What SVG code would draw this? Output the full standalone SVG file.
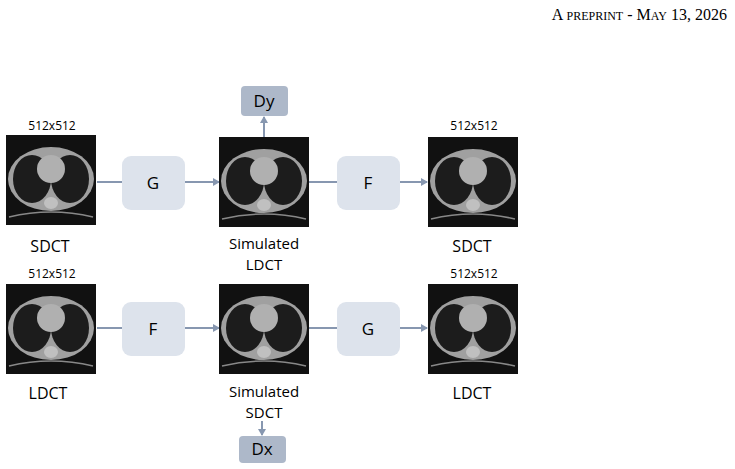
<svg xmlns="http://www.w3.org/2000/svg" width="735" height="469" viewBox="0 0 735 469">
<style>
.t{font-family:"Open Sans","Noto Sans",sans-serif;fill:#000}
.box{fill:#dde3ec}
.d{fill:#adb8c9}
.c{stroke:#8797b0;stroke-width:2;fill:none}
</style>
<defs>
<marker id="a" markerWidth="8" markerHeight="8" refX="6" refY="4" orient="auto" markerUnits="userSpaceOnUse"><path d="M0,0 L7,4 L0,8z" fill="#8797b0"/></marker>
<g id="ct">
<rect width="90" height="90" fill="#111"/>
<ellipse cx="45" cy="44" rx="43" ry="32" fill="#a0a0a0"/>
<ellipse cx="26" cy="44" rx="19" ry="24" fill="#1c1c1c"/>
<ellipse cx="64" cy="44" rx="19" ry="24" fill="#1c1c1c"/>
<ellipse cx="45" cy="34" rx="14" ry="14" fill="#b0b0b0"/>
<ellipse cx="45" cy="68" rx="7" ry="6" fill="#c0c0c0"/>
<path d="M3,82 Q45,72 87,82" stroke="#888" stroke-width="1.5" fill="none"/>
</g>
</defs>
<text x="727" y="20" text-anchor="end" font-family="Liberation Serif,serif" font-size="16">A <tspan font-size="12">PREPRINT</tspan> - M<tspan font-size="12">AY</tspan> 13, 2026</text>
<g id="connectors">
<line class="c" x1="97" y1="182" x2="122" y2="182"/>
<line class="c" x1="185" y1="182" x2="219" y2="182" marker-end="url(#a)"/>
<line class="c" x1="264" y1="138" x2="264" y2="117" marker-end="url(#a)"/>
<line class="c" x1="308" y1="182" x2="337" y2="182"/>
<line class="c" x1="400" y1="182" x2="427" y2="182" marker-end="url(#a)"/>
<line class="c" x1="97" y1="328" x2="122" y2="328"/>
<line class="c" x1="185" y1="328" x2="219" y2="328" marker-end="url(#a)"/>
<line class="c" x1="262" y1="421" x2="262" y2="435" marker-end="url(#a)"/>
<line class="c" x1="308" y1="328" x2="337" y2="328"/>
<line class="c" x1="400" y1="328" x2="427" y2="328" marker-end="url(#a)"/>
</g>
<g id="sdct-in"><text class="t" x="52" y="130" font-size="12" text-anchor="middle">512x512</text><use href="#ct" x="6" y="135"/><text class="t" x="50" y="252" font-size="16" text-anchor="middle">SDCT</text></g>
<g id="G1"><rect class="box" x="122" y="156" width="63" height="54" rx="9"/><text class="t" x="153" y="189" font-size="17" text-anchor="middle">G</text></g>
<g id="sim-ldct"><use href="#ct" x="219" y="137"/><text class="t" x="264" y="249" font-size="15" text-anchor="middle">Simulated</text><text class="t" x="264" y="270" font-size="15" text-anchor="middle">LDCT</text></g>
<g id="Dy"><rect class="d" x="241" y="86" width="47" height="30" rx="4"/><text class="t" x="264" y="107" font-size="17" text-anchor="middle">Dy</text></g>
<g id="F1"><rect class="box" x="337" y="156" width="63" height="54" rx="9"/><text class="t" x="368" y="189" font-size="17" text-anchor="middle">F</text></g>
<g id="sdct-out"><text class="t" x="474" y="130" font-size="12" text-anchor="middle">512x512</text><use href="#ct" x="428" y="137"/><text class="t" x="472" y="252" font-size="16" text-anchor="middle">SDCT</text></g>
<g id="ldct-in"><text class="t" x="52" y="278" font-size="12" text-anchor="middle">512x512</text><use href="#ct" x="6" y="284"/><text class="t" x="48" y="399" font-size="16" text-anchor="middle">LDCT</text></g>
<g id="F2"><rect class="box" x="122" y="302" width="63" height="54" rx="9"/><text class="t" x="153" y="335" font-size="17" text-anchor="middle">F</text></g>
<g id="sim-sdct"><use href="#ct" x="219" y="284"/><text class="t" x="264" y="397" font-size="15" text-anchor="middle">Simulated</text><text class="t" x="264" y="418" font-size="15" text-anchor="middle">SDCT</text></g>
<g id="Dx"><rect class="d" x="239" y="436" width="47" height="27" rx="4"/><text class="t" x="262" y="455" font-size="17" text-anchor="middle">Dx</text></g>
<g id="G2"><rect class="box" x="337" y="302" width="63" height="54" rx="9"/><text class="t" x="368" y="335" font-size="17" text-anchor="middle">G</text></g>
<g id="ldct-out"><text class="t" x="474" y="278" font-size="12" text-anchor="middle">512x512</text><use href="#ct" x="428" y="284"/><text class="t" x="472" y="399" font-size="16" text-anchor="middle">LDCT</text></g>
</svg>
